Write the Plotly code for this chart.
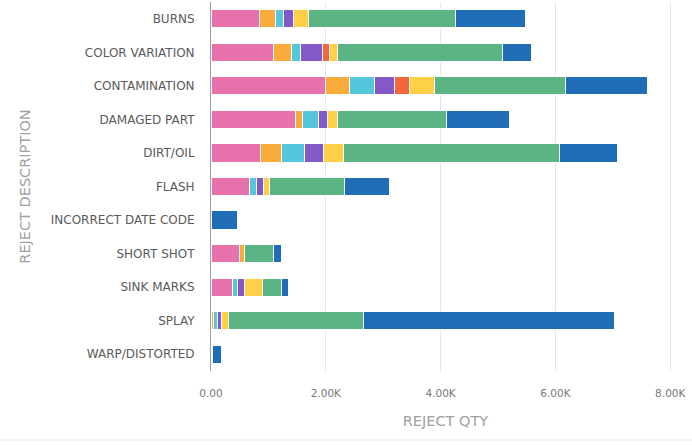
import plotly.graph_objects as go

categories = ["BURNS", "COLOR VARIATION", "CONTAMINATION", "DAMAGED PART", "DIRT/OIL",
              "FLASH", "INCORRECT DATE CODE", "SHORT SHOT", "SINK MARKS", "SPLAY",
              "WARP/DISTORTED"]

series_names = ["Series 1", "Series 2", "Series 3", "Series 4",
                "Series 5", "Series 6", "Series 7", "Series 8"]

s1 = [850, 1080, 1990, 1480, 860, 670, 0, 500, 370, 0, 0]
s2 = [280, 320, 420, 110, 360, 0, 0, 80, 0, 35, 30]
s3 = [140, 165, 435, 275, 405, 130, 0, 0, 90, 85, 0]
s4 = [175, 385, 350, 165, 335, 115, 0, 0, 130, 70, 0]
s5 = [0, 120, 265, 0, 0, 0, 0, 0, 0, 0, 0]
s6 = [245, 140, 425, 175, 350, 105, 0, 0, 315, 115, 0]
s7 = [2575, 2870, 2290, 1900, 3755, 1305, 0, 500, 325, 2355, 0]
s8 = [1215, 505, 1425, 1095, 1010, 790, 460, 150, 125, 4375, 145]

tick_vals = [0, 2000, 4000, 6000, 8000]
tick_text = ["0.00", "2.00K", "4.00K", "6.00K", "8.00K"]

colors = ["#E873AC", "#F9AB3C", "#55C7DC", "#8259C7", "#F2663A", "#FDD048", "#5BB483", "#1F6DB7"]

fig = go.Figure()
for name, vals, col in zip(series_names, [s1, s2, s3, s4, s5, s6, s7, s8], colors):
    fig.add_trace(go.Bar(
        y=categories, x=vals, name=name, orientation="h",
        marker=dict(color=col, line=dict(color="white", width=1)),
    ))

fig.update_layout(
    barmode="stack",
    bargap=0.46,
    width=692, height=445,
    margin=dict(l=211, r=12, t=2, b=74, autoexpand=False),
    paper_bgcolor="white", plot_bgcolor="white",
    showlegend=False,
    font=dict(family="DejaVu Sans, sans-serif", color="#555"),
    xaxis=dict(
        range=[0, 8170],
        tickvals=tick_vals, ticktext=tick_text,
        tickfont=dict(size=10.5, color="#777"),
        showgrid=True, gridcolor="#e6e6e6", gridwidth=1,
        zeroline=False, showline=False,
        ticks="", ticklabelstandoff=14,
        title=dict(text="REJECT QTY", font=dict(size=14.5, color="#a0a0a0"), standoff=18),
        automargin=False,
    ),
    yaxis=dict(
        autorange="reversed",
        tickfont=dict(size=12, color="#5a5a5a"),
        showline=True, linecolor="#a0a0a0", linewidth=1,
        showgrid=False, zeroline=False,
        ticks="", ticklabelstandoff=13,
        title=dict(text="REJECT DESCRIPTION", font=dict(size=14.5, color="#a0a0a0"), standoff=16),
        automargin=False,
    ),
    shapes=[dict(type="line", xref="paper", yref="paper",
                 x0=-0.45, x1=1.03, y0=-0.187, y1=-0.187,
                 line=dict(color="#e6e6e6", width=1))],
)

fig.write_html("out.html", config={"displayModeBar": False},
               post_script="document.body.style.margin='0';document.body.style.overflow='hidden';")
